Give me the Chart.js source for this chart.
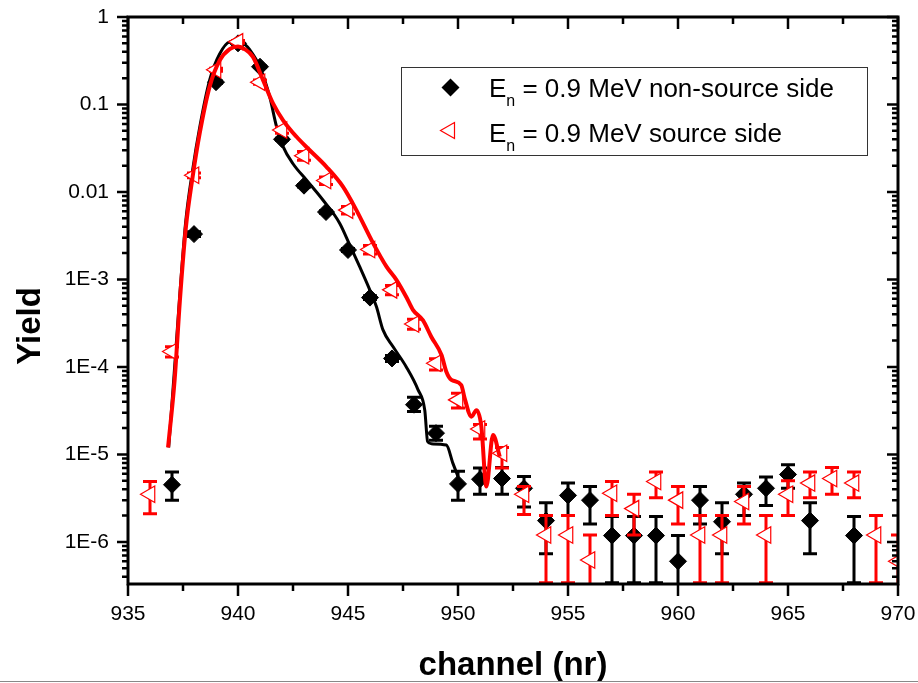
<!DOCTYPE html>
<html><head><meta charset="utf-8">
<script src="https://cdn.jsdelivr.net/npm/chart.js@4.4.1/dist/chart.umd.min.js"></script>
<style>html,body{margin:0;padding:0;background:#fff;}canvas{display:block;}</style>
</head><body>
<canvas id="c" width="918" height="683"></canvas>
<script>
// ---- tick labels ----
const xTickValues = [935, 940, 945, 950, 955, 960, 965, 970];
const yTickValues = [1e-6, 1e-5, 1e-4, 1e-3, 0.01, 0.1, 1];
const yTickLabels = ['1E-6', '1E-5', '1E-4', '1E-3', '0.01', '0.1', '1'];
const seriesNames = ['non-source side', 'source side'];

// ---- E_n = 0.9 MeV non-source side (black diamonds) ----
const blackCh  = [937, 938, 939, 940, 941, 942, 943, 944, 945, 946, 947, 948, 949, 950, 951, 952, 953, 954, 955, 956, 957, 958, 959, 960, 961, 962, 963, 964, 965, 966, 968];
const blackVal = [4.5e-6, 3.3e-3, 0.18, 0.50, 0.27, 0.040, 0.0118, 5.9e-3, 2.17e-3, 6.2e-4, 1.25e-4, 3.7e-5, 1.75e-5, 4.6e-6, 5.2e-6, 5.3e-6, 4.1e-6, 1.75e-6, 3.4e-6, 3.0e-6, 1.18e-6, 1.18e-6, 1.18e-6, 6.0e-7, 3.0e-6, 1.7e-6, 3.5e-6, 4.1e-6, 5.9e-6, 1.75e-6, 1.18e-6];
const blackLo  = [3.0e-6, 3.1e-3, 0.175, 0.49, 0.265, 0.039, 0.0114, 5.7e-3, 2.08e-3, 5.9e-4, 1.15e-4, 3.1e-5, 1.45e-5, 3.0e-6, 3.5e-6, 3.5e-6, 2.5e-6, 7.3e-7, 2.0e-6, 1.6e-6, 3.4e-7, 3.4e-7, 3.4e-7, 1e-7, 1.6e-6, 7.3e-7, 2.0e-6, 2.6e-6, 4.1e-6, 7.3e-7, 3.4e-7];
const blackHi  = [6.3e-6, 3.5e-3, 0.185, 0.51, 0.275, 0.041, 0.0122, 6.1e-3, 2.26e-3, 6.5e-4, 1.35e-4, 4.5e-5, 2.1e-5, 6.4e-6, 7.0e-6, 7.1e-6, 5.6e-6, 2.8e-6, 4.7e-6, 4.3e-6, 1.95e-6, 1.95e-6, 1.95e-6, 1.18e-6, 4.3e-6, 2.8e-6, 4.7e-6, 5.5e-6, 7.6e-6, 2.8e-6, 1.95e-6];

// ---- E_n = 0.9 MeV source side (red triangles) ----
const redCh  = [936, 937, 938, 939, 940, 941, 942, 943, 944, 945, 946, 947, 948, 949, 950, 951, 952, 953, 954, 955, 956, 957, 958, 959, 960, 961, 962, 963, 964, 965, 966, 967, 968, 969, 970];
const redVal = [3.5e-6, 1.5e-4, 0.0155, 0.25, 0.52, 0.18, 0.051, 0.026, 0.0135, 6.2e-3, 2.2e-3, 7.6e-4, 3.1e-4, 1.1e-4, 4.2e-5, 1.95e-5, 1.03e-5, 3.5e-6, 1.2e-6, 1.2e-6, 6.2e-7, 3.6e-6, 2.4e-6, 4.9e-6, 3.0e-6, 1.2e-6, 1.2e-6, 2.9e-6, 1.2e-6, 3.5e-6, 4.7e-6, 5.3e-6, 4.7e-6, 1.2e-6, 6.0e-7];
const redLo  = [2.1e-6, 1.3e-4, 0.0145, 0.24, 0.50, 0.17, 0.047, 0.023, 0.0122, 5.6e-3, 1.95e-3, 6.7e-4, 2.7e-4, 9.2e-5, 3.4e-5, 1.5e-5, 7.0e-6, 2.05e-6, 3.4e-7, 3.4e-7, 1e-7, 2.0e-6, 1.2e-6, 3.2e-6, 1.6e-6, 3.4e-7, 3.4e-7, 1.6e-6, 3.4e-7, 2.0e-6, 3.2e-6, 3.5e-6, 3.2e-6, 3.4e-7, 1e-7];
const redHi  = [4.9e-6, 1.7e-4, 0.0165, 0.26, 0.54, 0.19, 0.055, 0.029, 0.0148, 6.8e-3, 2.45e-3, 8.5e-4, 3.5e-4, 1.24e-4, 5.0e-5, 2.2e-5, 1.2e-5, 4.3e-6, 2.0e-6, 2.0e-6, 1.2e-6, 4.9e-6, 3.5e-6, 6.3e-6, 4.3e-6, 2.0e-6, 2.0e-6, 4.3e-6, 2.0e-6, 5.0e-6, 6.3e-6, 7.1e-6, 6.3e-6, 2.0e-6, 1.2e-6];

// ---- fitted curves ----
const blackFitX = [936.85, 937.1, 937.36, 937.62, 937.94, 938.26, 938.71, 939.17, 939.62, 940.0, 940.3, 940.54, 940.99, 941.44, 941.75, 942.05, 942.5, 943.11, 943.86, 944.62, 945.08, 945.53, 945.99, 946.29, 946.59, 947.05, 947.65, 948.18, 948.49, 948.62, 948.79, 949.47, 949.77, 950.0];
const blackFitY = [1.2e-5, 8.5e-5, 7.0e-4, 4.5e-3, 0.018, 0.055, 0.19, 0.38, 0.52, 0.53, 0.49, 0.42, 0.27, 0.123, 0.056, 0.033, 0.021, 0.0137, 8.1e-3, 4.4e-3, 2.48e-3, 1.4e-3, 7.6e-4, 4.9e-4, 2.65e-4, 1.7e-4, 1.0e-4, 5.5e-5, 3.2e-5, 1.4e-5, 1.32e-5, 1.28e-5, 7.9e-6, 5.6e-6];
const redFitX = [936.82, 937.12, 937.36, 937.62, 937.94, 938.26, 938.71, 939.17, 939.62, 940.0, 940.3, 940.68, 941.14, 941.59, 942.05, 942.65, 943.26, 944.02, 944.77, 945.38, 946.14, 946.75, 947.2, 947.65, 947.95, 948.41, 948.79, 949.25, 949.47, 949.7, 950.15, 950.3, 950.61, 950.84, 951.06, 951.29, 951.59, 951.9];
const redFitY = [1.2e-5, 7.1e-5, 5.8e-4, 3.7e-3, 0.015, 0.047, 0.16, 0.32, 0.43, 0.46, 0.43, 0.35, 0.19, 0.103, 0.066, 0.043, 0.030, 0.0194, 0.0115, 6.2e-3, 2.6e-3, 1.4e-3, 9.9e-4, 6.3e-4, 4.5e-4, 3.4e-4, 2.2e-4, 1.37e-4, 8.8e-5, 7.1e-5, 6.2e-5, 4.4e-5, 2.7e-5, 3.2e-5, 2.1e-5, 4.3e-6, 1.67e-5, 9.4e-6];

const FONT = "'Liberation Sans', Arial, sans-serif";
const pts = (xs, ys) => xs.map((x, i) => ({x: x, y: ys[i]}));
const noPad = s => { s.paddingLeft = 0; s.paddingRight = 0; s.paddingTop = 0; s.paddingBottom = 0; };

const errorBars = {
  id: 'errorBars',
  beforeDatasetDraw(chart, args) {
    const ds = chart.data.datasets[args.index];
    if (!ds.errLo) return;
    const ctx = chart.ctx, a = chart.chartArea, xs = chart.scales.x, ys = chart.scales.y;
    ctx.save();
    ctx.beginPath(); ctx.rect(a.left, a.top, a.right - a.left, a.bottom - a.top); ctx.clip();
    ctx.strokeStyle = ds.errColor; ctx.lineWidth = 3;
    ds.data.forEach((p, i) => {
      const x = xs.getPixelForValue(p.x);
      const yl = ys.getPixelForValue(ds.errLo[i]), yh = ys.getPixelForValue(ds.errHi[i]);
      ctx.beginPath();
      ctx.moveTo(x, yl); ctx.lineTo(x, yh);
      ctx.moveTo(x - 7, yl); ctx.lineTo(x + 7, yl);
      ctx.moveTo(x - 7, yh); ctx.lineTo(x + 7, yh);
      ctx.stroke();
    });
    ctx.restore();
  }
};

const frame = {
  id: 'frame',
  afterDatasetsDraw(chart) {
    const ctx = chart.ctx, a = chart.chartArea, xs = chart.scales.x, ys = chart.scales.y;
    ctx.save();
    ctx.strokeStyle = '#000';
    ctx.lineWidth = 2.5;
    ctx.beginPath();
    for (let v = xs.min; v <= xs.max + 1e-9; v += 2.5) {
      const x = xs.getPixelForValue(v);
      const len = (Math.round(v * 10) % 50 === 0) ? 12 : 7;
      ctx.moveTo(x, a.bottom); ctx.lineTo(x, a.bottom + len);
      ctx.moveTo(x, a.top); ctx.lineTo(x, a.top + len);
    }
    for (let e = -7; e <= 0; e++) {
      for (let k = 1; k <= 9; k++) {
        const v = k * Math.pow(10, e);
        if (v < ys.min * 0.999 || v > ys.max * 1.001) continue;
        const y = ys.getPixelForValue(v);
        const len = k === 1 ? 11 : 6;
        ctx.moveTo(a.left - len, y); ctx.lineTo(a.left, y);
        ctx.moveTo(a.right - len, y); ctx.lineTo(a.right, y);
      }
    }
    ctx.stroke();
    ctx.lineWidth = 3;
    ctx.strokeRect(a.left, a.top, a.right - a.left, a.bottom - a.top);

    // axis titles
    ctx.fillStyle = '#000';
    ctx.font = 'bold 33px ' + FONT;
    ctx.textAlign = 'center'; ctx.textBaseline = 'alphabetic';
    ctx.fillText('channel (nr)', (a.left + a.right) / 2, 675);
    ctx.save();
    ctx.translate(40, 326); ctx.rotate(-Math.PI / 2);
    ctx.fillText('Yield', 0, 0);
    ctx.restore();

    // legend
    ctx.lineWidth = 1; ctx.strokeStyle = '#333';
    ctx.strokeRect(401.5, 67.5, 466, 88);
    ctx.fillStyle = '#000';
    ctx.beginPath();
    ctx.moveTo(450.5, 78.5); ctx.lineTo(459.5, 87.5); ctx.lineTo(450.5, 96.5); ctx.lineTo(441.5, 87.5); ctx.closePath();
    ctx.fill();
    ctx.strokeStyle = '#ff0000'; ctx.lineWidth = 1.2;
    ctx.beginPath();
    ctx.moveTo(440.5, 130.5); ctx.lineTo(454.5, 122.5); ctx.lineTo(454.5, 138.5); ctx.closePath();
    ctx.stroke();
    ctx.fillStyle = '#000'; ctx.textAlign = 'left';
    const rows = [96.5, 141.5];
    rows.forEach((b, i) => {
      ctx.font = '26px ' + FONT;
      ctx.fillText('E', 489, b);
      const w = ctx.measureText('E').width;
      ctx.font = '16px ' + FONT;
      ctx.fillText('n', 489 + w, b + 9.5);
      const wn = ctx.measureText('n').width;
      ctx.font = '26px ' + FONT;
      ctx.fillText(' = 0.9 MeV ' + seriesNames[i], 489 + w + wn, b);
    });
    ctx.strokeStyle = '#888'; ctx.lineWidth = 1;
    ctx.beginPath(); ctx.moveTo(0, 681.5); ctx.lineTo(918, 681.5); ctx.stroke();
    ctx.restore();
  }
};

new Chart(document.getElementById('c'), {
  type: 'scatter',
  data: {
    datasets: [
      { label: 'fit source side', data: pts(redFitX, redFitY), showLine: true, borderColor: '#ff0000', borderWidth: 4,
        pointRadius: 0, cubicInterpolationMode: 'monotone', order: 0 },
      { label: 'E_n = 0.9 MeV ' + seriesNames[1], data: pts(redCh, redVal), pointStyle: 'triangle', rotation: -90,
        pointRadius: 9.5, borderColor: '#ff0000', backgroundColor: '#ffffff', borderWidth: 1.2,
        errLo: redLo, errHi: redHi, errColor: '#ff0000', order: 1 },
      { label: 'fit non-source side', data: pts(blackFitX, blackFitY), showLine: true, borderColor: '#000000', borderWidth: 3,
        pointRadius: 0, cubicInterpolationMode: 'monotone', order: 2 },
      { label: 'E_n = 0.9 MeV ' + seriesNames[0], data: pts(blackCh, blackVal), pointStyle: 'rectRot',
        pointRadius: 8.5, borderColor: '#000000', backgroundColor: '#000000', borderWidth: 1,
        errLo: blackLo, errHi: blackHi, errColor: '#000000', order: 3 }
    ]
  },
  options: {
    responsive: false, animation: false, devicePixelRatio: 1,
    layout: { padding: { left: 0, right: 20, top: 17, bottom: 0 } },
    plugins: { legend: { display: false }, tooltip: { enabled: false } },
    scales: {
      x: {
        type: 'linear', min: 935, max: 970,
        afterFit(s) { s.height = 99; noPad(s); },
        afterBuildTicks(s) { s.ticks = xTickValues.map(v => ({ value: v })); },
        ticks: { font: { family: FONT, size: 21 }, color: '#000', padding: 18, maxRotation: 0, autoSkip: false,
                 callback: v => String(v) },
        grid: { display: false, drawTicks: false }, border: { display: false }
      },
      y: {
        type: 'logarithmic', min: 3.3e-7, max: 1,
        afterFit(s) { s.width = 128; noPad(s); },
        afterBuildTicks(s) { s.ticks = yTickValues.map(v => ({ value: v })); },
        ticks: { font: { family: FONT, size: 21 }, color: '#000', padding: 19, autoSkip: false,
                 callback: v => { const i = yTickValues.indexOf(v); return i >= 0 ? yTickLabels[i] : ''; } },
        grid: { display: false, drawTicks: false }, border: { display: false }
      }
    }
  },
  plugins: [errorBars, frame]
});
</script>
</body></html>
